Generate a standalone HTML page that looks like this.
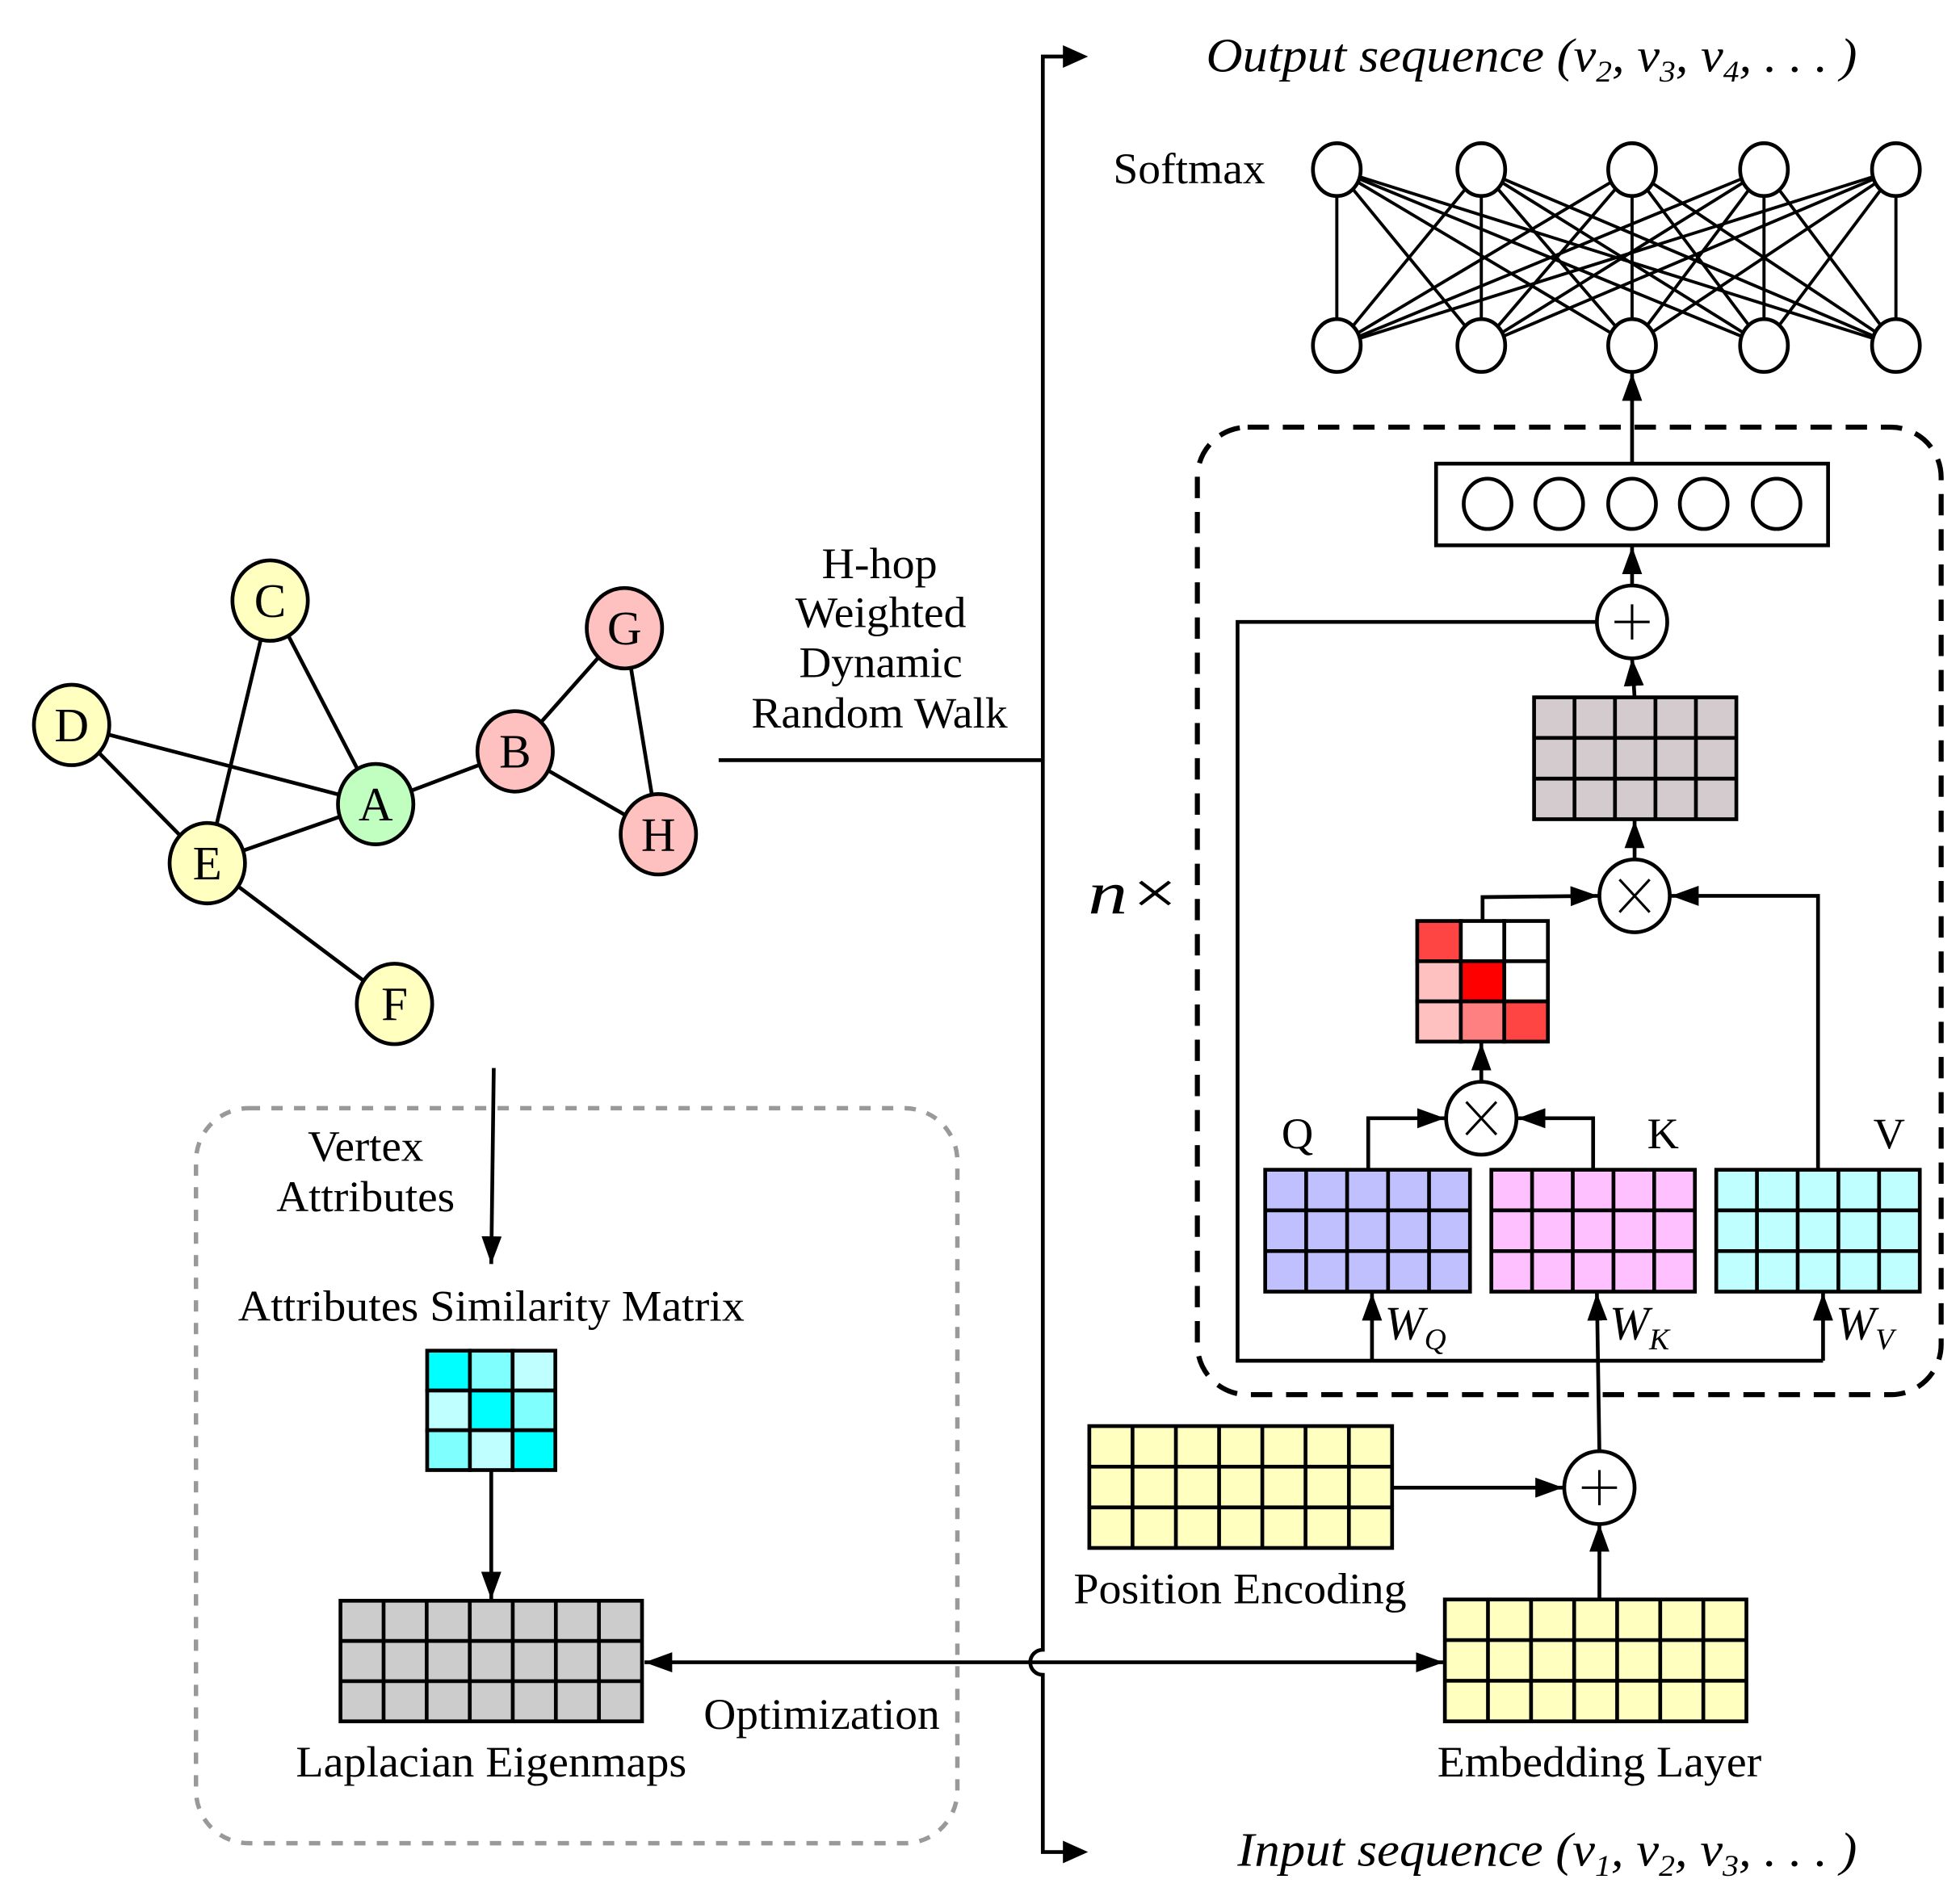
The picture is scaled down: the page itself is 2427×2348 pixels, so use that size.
<!DOCTYPE html>
<html><head><meta charset="utf-8"><style>
html,body{margin:0;padding:0;background:#fff;}
svg{display:block;}
text{font-family:"Liberation Serif",serif;fill:#000;}
.it{font-style:italic;}
</style></head><body>
<svg width="2427" height="2348" viewBox="0 0 1560 1509" preserveAspectRatio="none" xmlns="http://www.w3.org/2000/svg">
<defs>
<marker id="ah" markerUnits="userSpaceOnUse" markerWidth="24" markerHeight="16" refX="22" refY="8" orient="auto"><path d="M0,0 L22,8 L0,16 Z" fill="#000"/></marker>
</defs>
<g stroke="#000" stroke-width="3" fill="none">
<line x1="57" y1="577" x2="299" y2="640"/>
<line x1="57" y1="577" x2="165" y2="687"/>
<line x1="215" y1="478" x2="165" y2="687"/>
<line x1="215" y1="478" x2="299" y2="640"/>
<line x1="165" y1="687" x2="299" y2="640"/>
<line x1="299" y1="640" x2="410" y2="598"/>
<line x1="410" y1="598" x2="497" y2="500"/>
<line x1="497" y1="500" x2="524" y2="664"/>
<line x1="410" y1="598" x2="524" y2="664"/>
<line x1="165" y1="687" x2="314" y2="799"/>
</g>
<g stroke="#000" stroke-width="3">
<ellipse cx="215" cy="478" rx="30" ry="32" fill="#FFFFC0"/>
<ellipse cx="57" cy="577" rx="30" ry="32" fill="#FFFFC0"/>
<ellipse cx="299" cy="640" rx="30" ry="32" fill="#C0FFC0"/>
<ellipse cx="410" cy="598" rx="30" ry="32" fill="#FFC0C0"/>
<ellipse cx="497" cy="500" rx="30" ry="32" fill="#FFC0C0"/>
<ellipse cx="524" cy="664" rx="30" ry="32" fill="#FFC0C0"/>
<ellipse cx="165" cy="687" rx="30" ry="32" fill="#FFFFC0"/>
<ellipse cx="314" cy="799" rx="30" ry="32" fill="#FFFFC0"/>
</g>
<g font-size="38" text-anchor="middle">
<text x="215" y="491">C</text><text x="57" y="590">D</text><text x="299" y="653">A</text>
<text x="410" y="611">B</text><text x="497" y="513">G</text><text x="524" y="677">H</text>
<text x="165" y="700">E</text><text x="314" y="812">F</text>
</g>

<line x1="572" y1="605" x2="830" y2="605" stroke="#000" stroke-width="3"/>
<g font-size="35" text-anchor="middle">
<text x="700" y="460" textLength="92" lengthAdjust="spacingAndGlyphs">H-hop</text>
<text x="701" y="499" textLength="136" lengthAdjust="spacingAndGlyphs">Weighted</text>
<text x="701" y="539" textLength="130" lengthAdjust="spacingAndGlyphs">Dynamic</text>
<text x="700" y="579" textLength="204" lengthAdjust="spacingAndGlyphs">Random Walk</text>
</g>

<g stroke="#000" stroke-width="3" fill="none">
<path d="M850,45 L830,45 L830,1313 A10,10 0 0 0 830,1333 L830,1474 L850,1474"/>
</g>
<path d="M846,36 L866,45 L846,54 Z" fill="#000"/>
<path d="M846,1465 L866,1474 L846,1483 Z" fill="#000"/>
<text x="960" y="57" font-size="38" class="it" textLength="518" lengthAdjust="spacingAndGlyphs">Output  sequence (<tspan>v</tspan><tspan font-size="24" dy="8">2</tspan><tspan dy="-8">, v</tspan><tspan font-size="24" dy="8">3</tspan><tspan dy="-8">, v</tspan><tspan font-size="24" dy="8">4</tspan><tspan dy="-8">, . . . )</tspan></text>
<text x="985" y="1485" font-size="38" class="it" textLength="493" lengthAdjust="spacingAndGlyphs">Input  sequence (<tspan>v</tspan><tspan font-size="24" dy="8">1</tspan><tspan dy="-8">, v</tspan><tspan font-size="24" dy="8">2</tspan><tspan dy="-8">, v</tspan><tspan font-size="24" dy="8">3</tspan><tspan dy="-8">, . . . )</tspan></text>

<text x="886" y="146" font-size="35" textLength="121" lengthAdjust="spacingAndGlyphs">Softmax</text>
<g stroke="#000" stroke-width="2.5">
<line x1="1064" y1="135" x2="1064" y2="275"/><line x1="1064" y1="135" x2="1179" y2="275"/><line x1="1064" y1="135" x2="1299" y2="275"/><line x1="1064" y1="135" x2="1404" y2="275"/><line x1="1064" y1="135" x2="1509" y2="275"/>
<line x1="1179" y1="135" x2="1064" y2="275"/><line x1="1179" y1="135" x2="1179" y2="275"/><line x1="1179" y1="135" x2="1299" y2="275"/><line x1="1179" y1="135" x2="1404" y2="275"/><line x1="1179" y1="135" x2="1509" y2="275"/>
<line x1="1299" y1="135" x2="1064" y2="275"/><line x1="1299" y1="135" x2="1179" y2="275"/><line x1="1299" y1="135" x2="1299" y2="275"/><line x1="1299" y1="135" x2="1404" y2="275"/><line x1="1299" y1="135" x2="1509" y2="275"/>
<line x1="1404" y1="135" x2="1064" y2="275"/><line x1="1404" y1="135" x2="1179" y2="275"/><line x1="1404" y1="135" x2="1299" y2="275"/><line x1="1404" y1="135" x2="1404" y2="275"/><line x1="1404" y1="135" x2="1509" y2="275"/>
<line x1="1509" y1="135" x2="1064" y2="275"/><line x1="1509" y1="135" x2="1179" y2="275"/><line x1="1509" y1="135" x2="1299" y2="275"/><line x1="1509" y1="135" x2="1404" y2="275"/><line x1="1509" y1="135" x2="1509" y2="275"/>
</g>
<g stroke="#000" stroke-width="3" fill="#fff">
<ellipse cx="1064" cy="135" rx="19" ry="21"/><ellipse cx="1179" cy="135" rx="19" ry="21"/><ellipse cx="1299" cy="135" rx="19" ry="21"/><ellipse cx="1404" cy="135" rx="19" ry="21"/><ellipse cx="1509" cy="135" rx="19" ry="21"/>
<ellipse cx="1064" cy="275" rx="19" ry="21"/><ellipse cx="1179" cy="275" rx="19" ry="21"/><ellipse cx="1299" cy="275" rx="19" ry="21"/><ellipse cx="1404" cy="275" rx="19" ry="21"/><ellipse cx="1509" cy="275" rx="19" ry="21"/>
</g>

<rect x="953" y="340" width="592" height="770" rx="40" ry="40" fill="none" stroke="#000" stroke-width="4" stroke-dasharray="17 11"/>
<text x="866" y="727" font-size="48" class="it" textLength="74" lengthAdjust="spacingAndGlyphs">n×</text>

<g stroke="#000" stroke-width="3" fill="none">
<rect x="1143" y="369" width="312" height="65" fill="#fff"/>
<ellipse cx="1184" cy="401" rx="19" ry="20"/><ellipse cx="1241" cy="401" rx="19" ry="20"/><ellipse cx="1299" cy="401" rx="19" ry="20"/><ellipse cx="1356" cy="401" rx="19" ry="20"/><ellipse cx="1414" cy="401" rx="19" ry="20"/>
<line x1="1299" y1="369" x2="1299" y2="297" marker-end="url(#ah)"/>
<line x1="1299" y1="467" x2="1299" y2="435" marker-end="url(#ah)"/>
<line x1="1301" y1="555" x2="1299" y2="524" marker-end="url(#ah)"/>
<line x1="1301" y1="685" x2="1301" y2="653" marker-end="url(#ah)"/>
<path d="M1271,495 L985,495 L985,1083 L1451,1083"/>
<line x1="1092" y1="1083" x2="1092" y2="1029" marker-end="url(#ah)"/>
<line x1="1451" y1="1083" x2="1451" y2="1029" marker-end="url(#ah)"/>
<line x1="1273" y1="1156" x2="1271" y2="1029" marker-end="url(#ah)"/>
<path d="M1180,733 L1180,714 L1272,713" marker-end="url(#ah)"/>
<path d="M1447,930 L1447,713 L1330,713" marker-end="url(#ah)"/>
<line x1="1179" y1="862" x2="1179" y2="830" marker-end="url(#ah)"/>
<path d="M1089,931 L1089,890 L1150,890" marker-end="url(#ah)"/>
<path d="M1268,931 L1268,890 L1208,890" marker-end="url(#ah)"/>
<line x1="1108" y1="1184" x2="1244" y2="1184" marker-end="url(#ah)"/>
<line x1="1273" y1="1273" x2="1273" y2="1213" marker-end="url(#ah)"/>
<line x1="820" y1="1323" x2="513" y2="1323" marker-end="url(#ah)"/>
<line x1="820" y1="1323" x2="1149" y2="1323" marker-end="url(#ah)"/>
</g>
<g stroke="#000" stroke-width="3" fill="#fff">
<ellipse cx="1299" cy="495" rx="28" ry="29"/>
<ellipse cx="1301" cy="713" rx="28" ry="29"/>
<ellipse cx="1179" cy="890" rx="28" ry="29"/>
<ellipse cx="1273" cy="1184" rx="28" ry="29"/>
</g>
<g stroke="#000" stroke-width="2" fill="none">
<path d="M1299,481 V509 M1285,495 H1313"/>
<path d="M1273,1170 V1198 M1259,1184 H1287"/>
<path d="M1289,700 L1313,726 M1313,700 L1289,726"/>
<path d="M1167,877 L1191,903 M1191,877 L1167,903"/>
</g>

<rect x="1221" y="555" width="161" height="97" fill="#D3CBCE" stroke="#000" stroke-width="3"/>
<path d="M1253.2,555V652M1285.4,555V652M1317.6,555V652M1349.8,555V652M1221,587.3H1382M1221,619.7H1382" stroke="#000" stroke-width="3"/>
<g stroke="#000" stroke-width="3">
<rect x="1128" y="733" width="34.7" height="32" fill="#FF4444"/><rect x="1162.7" y="733" width="34.6" height="32" fill="#fff"/><rect x="1197.3" y="733" width="34.7" height="32" fill="#fff"/>
<rect x="1128" y="765" width="34.7" height="32" fill="#FFC0C0"/><rect x="1162.7" y="765" width="34.6" height="32" fill="#FF0000"/><rect x="1197.3" y="765" width="34.7" height="32" fill="#fff"/>
<rect x="1128" y="797" width="34.7" height="32" fill="#FFC0C0"/><rect x="1162.7" y="797" width="34.6" height="32" fill="#FF8080"/><rect x="1197.3" y="797" width="34.7" height="32" fill="#FF4444"/>
</g>
<rect x="1007" y="931" width="163" height="97" fill="#C0C0FF" stroke="#000" stroke-width="3"/>
<path d="M1039.6,931V1028M1072.2,931V1028M1104.8,931V1028M1137.4,931V1028M1007,963.3H1170M1007,995.7H1170" stroke="#000" stroke-width="3"/>
<rect x="1187" y="931" width="162" height="97" fill="#FFC0FF" stroke="#000" stroke-width="3"/>
<path d="M1219.4,931V1028M1251.8,931V1028M1284.2,931V1028M1316.6,931V1028M1187,963.3H1349M1187,995.7H1349" stroke="#000" stroke-width="3"/>
<rect x="1366" y="931" width="162" height="97" fill="#C0FFFF" stroke="#000" stroke-width="3"/>
<path d="M1398.4,931V1028M1430.8,931V1028M1463.2,931V1028M1495.6,931V1028M1366,963.3H1528M1366,995.7H1528" stroke="#000" stroke-width="3"/>
<g font-size="35"><text x="1020" y="914">Q</text><text x="1311" y="914">K</text><text x="1491" y="914">V</text></g>
<g font-size="38" class="it">
<text x="1102" y="1066">W<tspan font-size="24" dy="8">Q</tspan></text>
<text x="1281" y="1066">W<tspan font-size="24" dy="8">K</tspan></text>
<text x="1461" y="1066">W<tspan font-size="24" dy="8">V</tspan></text>
</g>

<rect x="867" y="1135" width="241" height="97" fill="#FFFFC0" stroke="#000" stroke-width="3"/>
<path d="M901.4,1135V1232M935.9,1135V1232M970.3,1135V1232M1004.7,1135V1232M1039.1,1135V1232M1073.6,1135V1232M867,1167.3H1108M867,1199.7H1108" stroke="#000" stroke-width="3"/>
<rect x="1150" y="1273" width="240" height="97" fill="#FFFFC0" stroke="#000" stroke-width="3"/>
<path d="M1184.3,1273V1370M1218.6,1273V1370M1252.9,1273V1370M1287.1,1273V1370M1321.4,1273V1370M1355.7,1273V1370M1150,1305.3H1390M1150,1337.7H1390" stroke="#000" stroke-width="3"/>
<g font-size="35" text-anchor="middle">
<text x="987" y="1276" textLength="265" lengthAdjust="spacingAndGlyphs">Position Encoding</text>
<text x="1273" y="1414" textLength="258" lengthAdjust="spacingAndGlyphs">Embedding Layer</text>
</g>

<rect x="156" y="882" width="606" height="585" rx="42" ry="42" fill="none" stroke="#999" stroke-width="3.5" stroke-dasharray="9 9"/>
<line x1="393" y1="850" x2="391" y2="1006" stroke="#000" stroke-width="3" marker-end="url(#ah)"/>
<line x1="391" y1="1170" x2="391" y2="1273" stroke="#000" stroke-width="3" marker-end="url(#ah)"/>
<g font-size="35" text-anchor="middle">
<text x="291" y="924" textLength="92" lengthAdjust="spacingAndGlyphs">Vertex</text>
<text x="291" y="964" textLength="142" lengthAdjust="spacingAndGlyphs">Attributes</text>
<text x="391" y="1051" textLength="403" lengthAdjust="spacingAndGlyphs">Attributes Similarity Matrix</text>
<text x="391" y="1414" textLength="311" lengthAdjust="spacingAndGlyphs">Laplacian Eigenmaps</text>
<text x="654" y="1376" textLength="188" lengthAdjust="spacingAndGlyphs">Optimization</text>
</g>
<g stroke="#000" stroke-width="3">
<rect x="340" y="1075" width="34" height="31.7" fill="#00FFFF"/><rect x="374" y="1075" width="34" height="31.7" fill="#80FFFF"/><rect x="408" y="1075" width="34" height="31.7" fill="#C0FFFF"/>
<rect x="340" y="1106.7" width="34" height="31.6" fill="#C0FFFF"/><rect x="374" y="1106.7" width="34" height="31.6" fill="#00FFFF"/><rect x="408" y="1106.7" width="34" height="31.6" fill="#80FFFF"/>
<rect x="340" y="1138.3" width="34" height="31.7" fill="#80FFFF"/><rect x="374" y="1138.3" width="34" height="31.7" fill="#C0FFFF"/><rect x="408" y="1138.3" width="34" height="31.7" fill="#00FFFF"/>
</g>
<rect x="271" y="1274" width="240" height="96" fill="#CCCCCC" stroke="#000" stroke-width="3"/>
<path d="M305.3,1274V1370M339.6,1274V1370M373.9,1274V1370M408.1,1274V1370M442.4,1274V1370M476.7,1274V1370M271,1306H511M271,1338H511" stroke="#000" stroke-width="3"/>
</svg>
</body></html>
